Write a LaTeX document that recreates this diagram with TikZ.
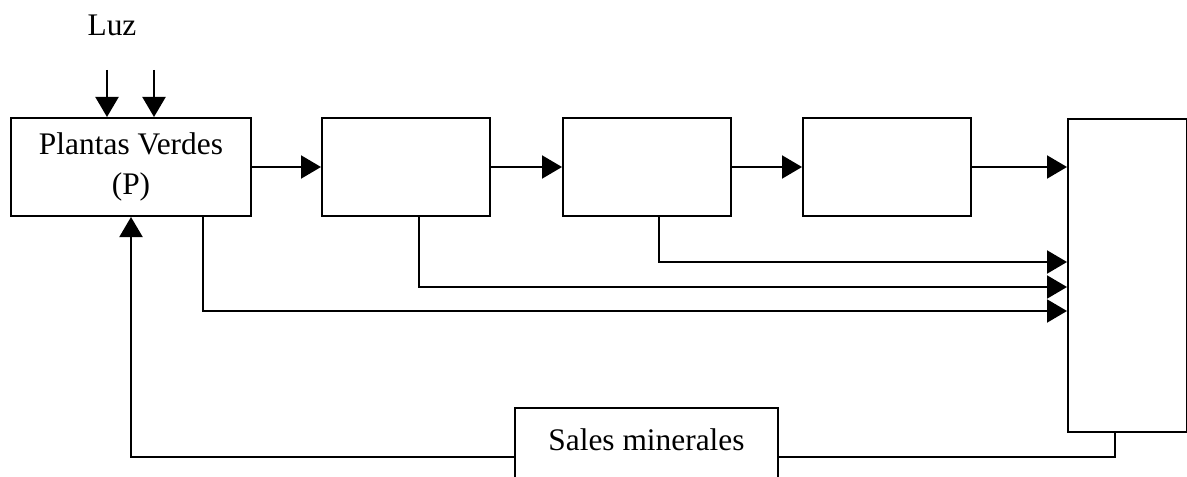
\documentclass[tikz,border=0pt]{standalone}
\usepackage{fontspec}
\setmainfont{Liberation Serif}
\usetikzlibrary{positioning, arrows.meta}
\tikzset{
    flecha/.style={-{Triangle[length=10pt, width=11.5pt]}},
    bloque/.style={rectangle, draw=black, minimum height=49pt, minimum width=84pt,
        inner sep=0pt, align=center},
    conexion/.style={coordinate}}

\begin{document}
\begin{tikzpicture}[x=0.5pt, y=-0.5pt, line width=1pt, font=\fontsize{15.7}{20}\selectfont]
    \useasboundingbox (0,0) rectangle (1187,476);
    % Cadena principal
    \node (plantas) [bloque, minimum width=120pt] at (131,167) {Plantas Verdes\\(P)};
    \node (herb) [bloque, right=34.5pt of plantas] {};
    \node (carn1) [bloque, right=35.5pt of herb] {};
    \node (carn2) [bloque, right=35pt of carn1] {};
    \node (descomp) [bloque, anchor=north west, minimum width=59.5pt, minimum height=156.5pt] at (1067,118) {};
    \node (sales) [bloque, minimum width=131.5pt, minimum height=41pt, text depth=9.5pt] at (646.5,449) {Sales minerales};
    % Luz
    \node (luz) at (112,25) {Luz};
    \foreach \x in {107,154}{
        \coordinate (l) at (\x,70);
        \draw[flecha] (l) -- (l |- plantas.north);}
    % Flechas horizontales
    \draw[flecha] (plantas) -- (herb);
    \draw[flecha] (herb) -- (carn1);
    \draw[flecha] (carn1) -- (carn2);
    \draw[flecha] (carn2.east) -- (carn2.east -| descomp.west);
    % Restos hacia la caja final
    \foreach \caja/\x/\y in {plantas/203/311, herb/419/287, carn1/659/262}{
        \coordinate (p) at (\x,\y);
        \draw[flecha] (p |- \caja.south) |- (p -| descomp.west);}
    % Retorno de sales
    \coordinate (r) at (1115,457);
    \draw (r |- descomp.south) -- (r) -- (r -| sales.east);
    \draw[flecha] (r -| sales.west) -| (plantas.south);
\end{tikzpicture}
\end{document}
